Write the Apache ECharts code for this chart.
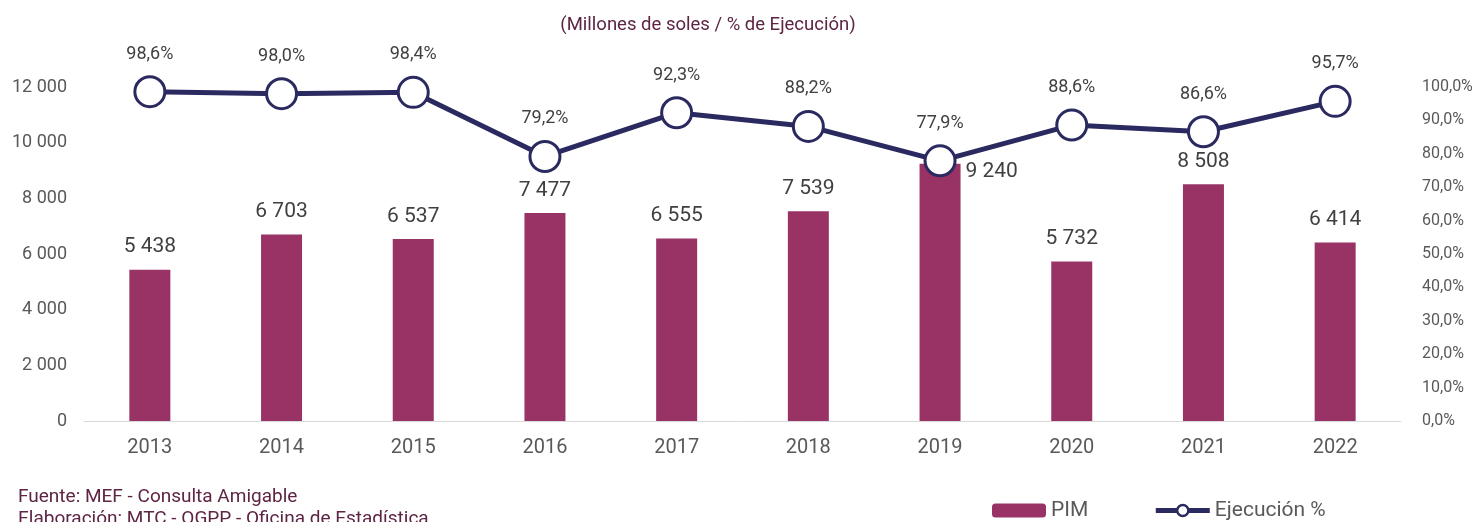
<!DOCTYPE html>
<html>
<head>
<meta charset="utf-8">
<script src="https://cdn.jsdelivr.net/npm/echarts@6/dist/echarts.min.js"></script>
<style>
html,body{margin:0;padding:0;background:#fff}
#chart{width:1479px;height:522px}
</style>
</head>
<body>
<div id="chart"></div>
<script>
// data
const years = ["2013","2014","2015","2016","2017","2018","2019","2020","2021","2022"]
const pim = [5438, 6703, 6537, 7477, 6555, 7539, 9240, 5732, 8508, 6414]
const ejecucion = [98.6, 98.0, 98.4, 79.2, 92.3, 88.2, 77.9, 88.6, 86.6, 95.7]

const fmtMiles = v => String(v).replace(/\B(?=(\d{3})+(?!\d))/g, " ")
const fmtPct = v => v.toFixed(1).replace(".", ",") + "%"

let mainNode = document.getElementById("chart")
let chart = echarts.init(mainNode, null, {renderer: "canvas"})

// 2019 label sits beside the bar, not above it
let barData = pim.map((v, i) => {
    if (i == 6) {
        return {
            value: v,
            label: {position: ["112%", 8], align: "left", verticalAlign: "middle"}
        }
    }
    return v
})

let option = {
    textStyle: {fontFamily: "Roboto"},
    title: {
        text: "(Millones de soles / % de Ejecución)",
        left: 703,
        top: 11,
        textAlign: "center",
        textStyle: {fontSize: 18.5, fontWeight: "normal", color: "#5e2444", fontFamily: "Roboto"}
    },
    grid: {left: 84, right: 78, top: 87, bottom: 101},
    legend: {
        left: 992,
        top: 500,
        padding: 0,
        itemWidth: 54,
        itemHeight: 14,
        itemGap: 65,
        textStyle: {fontSize: 21, color: "#595959", fontFamily: "Roboto"},
        data: ["PIM", {
            name: "Ejecución %",
            lineStyle: {width: 5, color: "#2b2a60"},
            itemStyle: {color: "#ffffff", borderColor: "#2b2a60", borderWidth: 2.5}
        }]
    },
    xAxis: {
        type: "category",
        data: years,
        axisTick: {show: false},
        axisLine: {lineStyle: {color: "#d9d9d9", width: 1}},
        axisLabel: {fontSize: 20, color: "#595959", margin: 17}
    },
    yAxis: [{
        type: "value",
        min: 0,
        max: 12000,
        interval: 2000,
        splitLine: {show: false},
        axisLabel: {fontSize: 18, color: "#595959", margin: 17, formatter: v => fmtMiles(v)}
    }, {
        type: "value",
        min: 0,
        max: 100,
        interval: 10,
        splitLine: {show: false},
        axisLabel: {fontSize: 16, color: "#595959", margin: 21, formatter: v => fmtPct(v)}
    }],
    series: [{
        name: "PIM",
        type: "bar",
        data: barData,
        barWidth: 41,
        itemStyle: {color: "#993366"},
        label: {
            show: true,
            position: "top",
            distance: 12,
            fontSize: 21,
            color: "#404040",
            formatter: p => fmtMiles(p.value)
        }
    }, {
        name: "Ejecución %",
        type: "line",
        yAxisIndex: 1,
        data: ejecucion,
        symbol: "circle",
        symbolSize: 30,
        lineStyle: {color: "#2b2a60", width: 5},
        itemStyle: {color: "#ffffff", borderColor: "#2b2a60", borderWidth: 3},
        label: {
            show: true,
            position: "top",
            distance: 12,
            fontSize: 18,
            color: "#404040",
            formatter: p => fmtPct(p.value)
        }
    }],
    graphic: [{
        type: "text",
        left: 18,
        top: 486,
        style: {
            text: "Fuente: MEF - Consulta Amigable\nElaboración: MTC - OGPP - Oficina de Estadística",
            fontSize: 19,
            lineHeight: 22,
            fill: "#5e2444",
            fontFamily: "Roboto"
        }
    }]
}

if (option && typeof option === "object") {
    chart.setOption(option)
}
</script>
</body>
</html>
